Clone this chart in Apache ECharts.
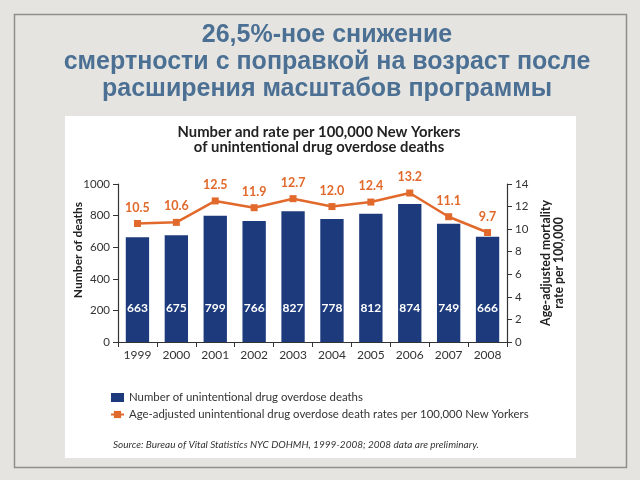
<!DOCTYPE html>
<html><head><meta charset="utf-8">
<script src="https://cdn.jsdelivr.net/npm/echarts@6/dist/echarts.min.js"></script>
<style>html,body{margin:0;padding:0;background:#e5e4e0;}#c{width:640px;height:480px;}</style>
</head><body><div id="c"></div>
<script>
const years = ['1999','2000','2001','2002','2003','2004','2005','2006','2007','2008'];
const deaths = [663,675,799,766,827,778,812,874,749,666];
const rates = [10.5,10.6,12.5,11.9,12.7,12.0,12.4,13.2,11.1,9.7];
const barName = 'Number of unintentional drug overdose deaths';
const lineName = 'Age-adjusted unintentional drug overdose death rates per 100,000 New Yorkers';
const mainTitle = '26,5%-ное снижение\nсмертности с поправкой на возраст после\nрасширения масштабов программы';
const chartTitle = 'Number and rate per 100,000 New Yorkers\nof unintentional drug overdose deaths';
const leftAxisName = 'Number of deaths';
const rightAxisName = 'Age-adjusted mortality\nrate per 100,000';
const sourceText = 'Source: Bureau of Vital Statistics NYC DOHMH, 1999-2008; 2008 data are preliminary.';

const FF = 'Lato';
const chart = echarts.init(document.getElementById('c'), null, {renderer:'canvas'});
chart.setOption({
  backgroundColor: '#e5e4e0',
  animation: false,
  graphic: [
    {type:'rect', z:-10, shape:{x:14.5,y:14.5,width:612,height:453}, style:{fill:'none', stroke:'#8e8e8c', lineWidth:1.5}},
    {type:'rect', z:-9, shape:{x:65,y:116,width:511,height:342}, style:{fill:'#ffffff'}},
    {type:'text', x:78, y:250, rotation:Math.PI/2,
     style:{text:leftAxisName, font:'bold 12px Lato', fill:'#222', align:'center', verticalAlign:'middle'}},
    {type:'text', left:113, top:440, style:{text:sourceText, font:'italic 10px Lato', fill:'#333'}}
  ],
  title: [
    {text: mainTitle, left: 322, top: 17, textAlign:'center',
     textStyle:{fontFamily:'Liberation Sans', fontWeight:'bold', fontSize:25, lineHeight:27, color:'#4b7094', align:'center'}},
    {text: chartTitle, left: 314, top: 120, textAlign:'center',
     textStyle:{fontFamily:FF, fontWeight:'bold', fontSize:14.8, lineHeight:15, color:'#222', align:'center'}}
  ],
  legend: {
    orient:'vertical', left:110, top:392, itemGap:6, itemWidth:13, itemHeight:9, padding:0,
    textStyle:{fontFamily:FF, fontSize:11.4, color:'#333'},
    data:[{name:barName, icon:'rect'}, {name:lineName}]
  },
  grid: {left:118, right:133, top:184, bottom:138},
  xAxis: {
    type:'category', data: years,
    axisLine:{lineStyle:{color:'#333', width:1.2}},
    axisTick:{show:true, length:5, lineStyle:{color:'#333'}},
    axisLabel:{fontFamily:FF, fontSize:12, color:'#333', margin:7}
  },
  yAxis: [
    {type:'value', min:0, max:1000, interval:200,
     axisLine:{show:true, lineStyle:{color:'#333', width:1.2}},
     axisTick:{show:true, length:5, lineStyle:{color:'#333'}},
     axisLabel:{fontFamily:FF, fontSize:11.5, color:'#333', margin:8, formatter: v => String(v)},
     splitLine:{show:false}},
    {type:'value', min:0, max:14, interval:2, position:'right', name:rightAxisName, nameLocation:'middle', nameRotate:90, nameGap:31.5,
     nameTextStyle:{fontFamily:FF, fontWeight:'bold', fontSize:12.3, lineHeight:13, color:'#222'},
     axisLine:{show:true, lineStyle:{color:'#333', width:1.2}},
     axisTick:{show:true, length:5, lineStyle:{color:'#333'}},
     axisLabel:{fontFamily:FF, fontSize:11.5, color:'#333', margin:8},
     splitLine:{show:false}}
  ],
  series: [
    {name:barName, type:'bar', data:deaths, barWidth:'60%', itemStyle:{color:'#1c3a7c'},
     label:{show:true, position:'insideBottom', distance:28, color:'#fff', fontFamily:FF, fontWeight:'bold', fontSize:12}},
    {name:lineName, type:'line', yAxisIndex:1, data:rates, symbol:'rect', symbolSize:7,
     lineStyle:{color:'#e2692c', width:2.5}, itemStyle:{color:'#e2692c'},
     label:{show:true, position:'top', distance:6, color:'#e2692c', fontFamily:FF, fontWeight:'bold', fontSize:12.5,
       formatter: p => p.value.toFixed(1)}}
  ]
});
</script></body></html>
